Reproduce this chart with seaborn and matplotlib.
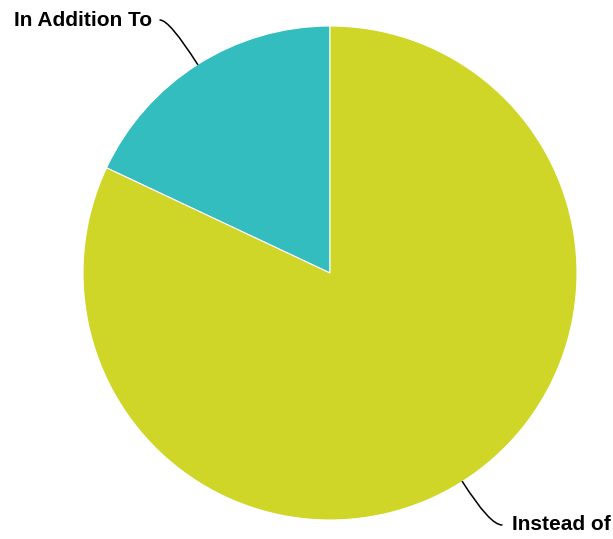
import seaborn as sns
import matplotlib.pyplot as plt
import numpy as np

sns.set_theme(style='white')
plt.rcParams['font.family'] = ['Liberation Sans', 'DejaVu Sans']

labels = ['In Addition To', 'Instead of']
values = [18, 82]
colors = ['#33bdbf', '#cfd628']

fig = plt.figure(figsize=(6.13, 5.39), dpi=100)
ax = fig.add_axes([0, 0, 1, 1])

cx, cy, r = 330, 539 - 273, 247
wedges, _ = ax.pie(values, colors=colors, startangle=90, counterclock=True,
                   center=(cx, cy), radius=r,
                   wedgeprops=dict(edgecolor='white', linewidth=0.8))

ax.set_xlim(0, 613)
ax.set_ylim(0, 539)
ax.set_aspect('equal')
ax.axis('off')

# text anchor, alignment and where the leader line meets the label
text_pos = [(152, 539 - 20, 'right', 160), (512, 539 - 525, 'left', 502)]
for w, lab, (tx, ty, ha, lx) in zip(wedges, labels, text_pos):
    ang = np.deg2rad((w.theta1 + w.theta2) / 2)
    ex, ey = cx + r * np.cos(ang), cy + r * np.sin(ang)
    ax.text(tx, ty, lab, ha=ha, va='center', fontsize=15,
            fontweight='bold', color='black')
    ax.annotate('', xy=(ex, ey), xytext=(lx, ty),
                arrowprops=dict(arrowstyle='-', color='black', lw=1.1,
                                shrinkA=0, shrinkB=0,
                                connectionstyle='angle3,angleA=0,angleB=%f'
                                % np.rad2deg(ang)))

fig.savefig('out.png', dpi=100)
